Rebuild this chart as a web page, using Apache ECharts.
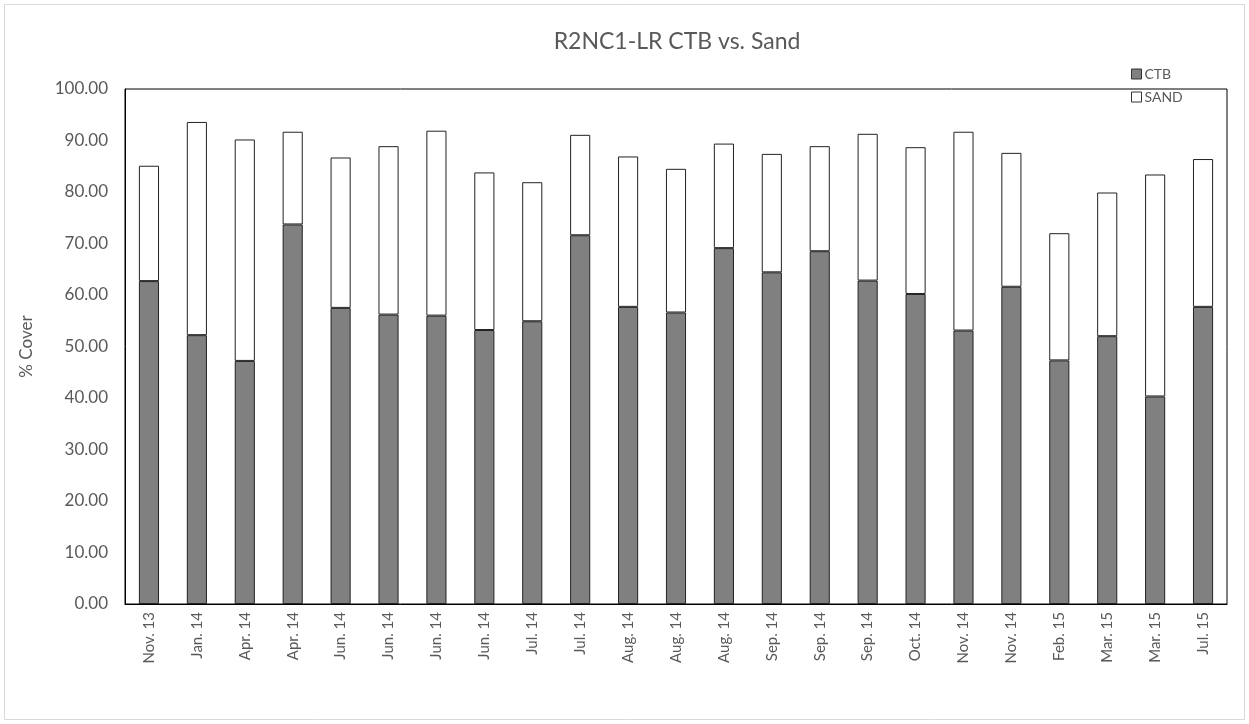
<!DOCTYPE html>
<html>
<head>
<meta charset="utf-8">
<script src="https://cdn.jsdelivr.net/npm/echarts@6/dist/echarts.min.js"></script>
<style>
html,body{margin:0;padding:0;background:#fff;}
#chart{width:1249px;height:724px;}
</style>
</head>
<body>
<div id="chart"></div>
<script>
const categories = ["Nov. 13","Jan. 14","Apr. 14","Apr. 14","Jun. 14","Jun. 14","Jun. 14","Jun. 14","Jul. 14","Jul. 14","Aug. 14","Aug. 14","Aug. 14","Sep. 14","Sep. 14","Sep. 14","Oct. 14","Nov. 14","Nov. 14","Feb. 15","Mar. 15","Mar. 15","Jul. 15"];
const ctb  = [62.7,52.2,47.2,73.7,57.5,56.2,56.0,53.2,54.9,71.6,57.7,56.6,69.1,64.4,68.5,62.8,60.2,53.1,61.6,47.3,52.0,40.3,57.7];
const totals = [85.1,93.6,90.2,91.7,86.7,88.9,91.9,83.8,81.9,91.1,86.9,84.5,89.4,87.4,88.9,91.3,88.7,91.7,87.6,72.0,79.9,83.4,86.4];
const sand = totals.map((t,i)=>+(t-ctb[i]).toFixed(1));
const yTicks = [0,10,20,30,40,50,60,70,80,90,100];

const FONT = "'Lato','Open Sans',sans-serif";
const TXT = '#595959';

const chart = echarts.init(document.getElementById('chart'));
chart.setOption({
  animation:false,
  backgroundColor:'#fff',
  textStyle:{fontFamily:FONT},
  graphic:[{type:'rect',shape:{x:4.5,y:4.5,width:1240,height:715},style:{fill:'none',stroke:'#d9d9d9',lineWidth:1},silent:true}],
  title:{text:'R2NC1-LR CTB vs. Sand',left:672,textAlign:'center',top:25,
    textStyle:{fontFamily:FONT,fontSize:23,fontWeight:'normal',color:TXT}},
  legend:{orient:'vertical',left:1126,top:62,itemWidth:10,itemHeight:10,itemGap:9,icon:'rect',
    textStyle:{fontFamily:FONT,fontSize:14,color:TXT,padding:[0,0,0,-2]},
    data:[{name:'CTB',itemStyle:{color:'#808080',borderColor:'#333',borderWidth:1}},
          {name:'SAND',itemStyle:{color:'#fff',borderColor:'#333',borderWidth:1}}]},
  grid:{left:125,right:22,top:89,bottom:120,show:true,borderColor:'#000',borderWidth:1,backgroundColor:'transparent'},
  xAxis:{type:'category',data:categories,
    axisTick:{show:false},axisLine:{show:true,lineStyle:{color:'#000'}},
    axisLabel:{interval:0,rotate:90,margin:8,fontFamily:FONT,fontSize:15,color:TXT}},
  yAxis:{type:'value',min:0,max:100,interval:10,
    name:'% Cover',nameLocation:'middle',nameRotate:90,nameGap:90,
    nameTextStyle:{fontFamily:FONT,fontSize:17,color:TXT},
    splitLine:{show:false},axisTick:{show:false},axisLine:{show:true,lineStyle:{color:'#000'}},
    axisLabel:{margin:17,fontFamily:FONT,fontSize:17,color:TXT,
      formatter:v=>yTicks.includes(v)?v.toFixed(2):''}},
  series:[
    {name:'CTB',type:'bar',stack:'a',data:ctb,barCategoryGap:'58%',
      itemStyle:{color:'#808080',borderColor:'#222',borderWidth:1}},
    {name:'SAND',type:'bar',stack:'a',data:sand,barCategoryGap:'58%',
      itemStyle:{color:'#fff',borderColor:'#222',borderWidth:1}}
  ]
});
</script>
</body>
</html>
